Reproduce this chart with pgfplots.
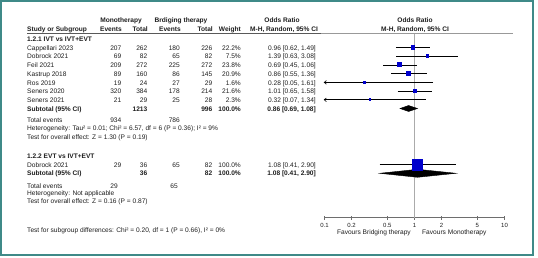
\documentclass[border=0pt]{standalone}
\usepackage{fontspec}
\setmainfont{Liberation Sans}
\usepackage{pgfplots}
\pgfplotsset{compat=1.18}
\usetikzlibrary{arrows.meta}
\definecolor{frameteal}{HTML}{3F8A88}
\definecolor{txt}{HTML}{1E1E1E}
\definecolor{axgray}{HTML}{6E6E6E}
\definecolor{refgray}{HTML}{ABABAB}
\definecolor{sqblue}{HTML}{0000CC}
\newcommand{\fs}{\fontsize{6.6}{7.5}\selectfont}
\begin{document}
\begin{tikzpicture}[
  L/.style={anchor=mid west, inner sep=0pt, font=\fs, text=txt},
  R/.style={anchor=mid east, inner sep=0pt, font=\fs, text=txt},
  C/.style={anchor=mid, inner sep=0pt, font=\fs, text=txt},
]
% ---------- text / frame layer (pixel coordinates, y downwards) ----------
\begin{scope}[x=1pt, y=-1pt, shift={(0pt,257pt)}]
\fill[white] (0,0) rectangle (538,257);
\draw[frameteal, line width=2.2pt] (1.1,1) rectangle (533,254.5);
% header rule
\draw[draw=black!65, line width=0.8pt] (27,33.5) -- (321,33.5);
\draw[draw=black!40, line width=0.8pt] (321,33.5) -- (513,33.5);
% headers
\node[C] at (121,20) {\bfseries Monotherapy};
\node[C] at (181,20) {\bfseries Brdiging therapy};
\node[C] at (282,20) {\bfseries Odds Ratio};
\node[C] at (415,20) {\bfseries Odds Ratio};
\node[L] at (27,29) {\bfseries Study or Subgroup};
\node[R] at (122,29) {\bfseries Events};
\node[R] at (148,29) {\bfseries Total};
\node[R] at (181,29) {\bfseries Events};
\node[R] at (213,29) {\bfseries Total};
\node[R] at (241,29) {\bfseries Weight};
\node[C] at (284,29) {\bfseries M-H, Random, 95\% CI};
\node[C] at (415,29) {\bfseries M-H, Random, 95\% CI};
% subgroup 1
\node[L] at (27,38.5) {\bfseries 1.2.1 IVT vs IVT+EVT};
\foreach \y/\n/\a/\b/\c/\d/\w/\o in {
  47.5/Cappellari 2023/207/262/180/226/22.2\%/{0.96 [0.62, 1.49]},
  56.2/Dobrock 2021/69/82/65/82/7.5\%/{1.39 [0.63, 3.08]},
  64.9/Feil 2021/209/272/225/272/23.8\%/{0.69 [0.45, 1.06]},
  73.6/Kastrup 2018/89/160/86/145/20.9\%/{0.86 [0.55, 1.36]},
  82.3/Ros 2019/19/24/27/29/1.6\%/{0.28 [0.05, 1.61]},
  91.0/Seners 2020/320/384/178/214/21.6\%/{1.01 [0.65, 1.58]},
  99.7/Seners 2021/21/29/25/28/2.3\%/{0.32 [0.07, 1.34]},
  164.6/Dobrock 2021/29/36/65/82/100.0\%/{1.08 [0.41, 2.90]}}{
  \node[L] at (27,\y) {\n};
  \node[R] at (121.5,\y) {\a};
  \node[R] at (147.5,\y) {\b};
  \node[R] at (180,\y) {\c};
  \node[R] at (212.5,\y) {\d};
  \node[R] at (241,\y) {\w};
  \node[R] at (316,\y) {\o};
}
\node[L] at (27,108.4) {\bfseries Subtotal (95\% CI)};
\node[R] at (147.5,108.4) {\bfseries 1213};
\node[R] at (212.5,108.4) {\bfseries 996};
\node[R] at (241,108.4) {\bfseries 100.0\%};
\node[R] at (316,108.4) {\bfseries 0.86 [0.69, 1.08]};
\node[L] at (27,119.3) {Total events};
\node[R] at (121.5,119.3) {934};
\node[R] at (180,119.3) {786};
\node[L] at (27,128.2) {Heterogeneity: Tau² = 0.01; Chi² = 6.57, df = 6 (P = 0.36); I² = 9\%};
\node[L] at (27,137.2) {Test for overall effect: Z = 1.30 (P = 0.19)};
% subgroup 2
\node[L] at (27,155.8) {\bfseries 1.2.2 EVT vs IVT+EVT};
\node[L] at (27,173.2) {\bfseries Subtotal (95\% CI)};
\node[R] at (147.5,173.2) {\bfseries 36};
\node[R] at (212.5,173.2) {\bfseries 82};
\node[R] at (241,173.2) {\bfseries 100.0\%};
\node[R] at (316,173.2) {\bfseries 1.08 [0.41, 2.90]};
\node[L] at (27,185.5) {Total events};
\node[R] at (118,185.5) {29};
\node[R] at (178,185.5) {65};
\node[L] at (27,192.8) {Heterogeneity: Not applicable};
\node[L] at (27,200.8) {Test for overall effect: Z = 0.16 (P = 0.87)};
\node[L] at (27,230) {Test for subgroup differences: Chi² = 0.20, df = 1 (P = 0.66), I² = 0\%};
% favours
\node[R] at (411,231.7) {Favours Bridging therapy};
\node[L] at (422,231.7) {Favours Monotherapy};
\end{scope}
% ---------- forest plot (log odds ratio axis) ----------
\begin{axis}[at={(324.5pt,39.3pt)}, anchor=south west, scale only axis,
  width=180pt, height=184.2pt, xmode=log, xmin=0.1, xmax=10,
  ymin=-217.7, ymax=-33.5, axis x line=bottom, axis y line=none,
  axis line style={-, draw=axgray, line width=0.8pt},
  xtick={0.1,0.2,0.5,1,2,5,10}, xticklabels={0.1,0.2,0.5,1,2,5,10},
  minor xtick={}, tick align=center, major tick length=4pt,
  tick style={draw=axgray, line width=0.8pt},
  xticklabel style={font=\fontsize{6}{7}\selectfont, text=txt, inner sep=0pt, anchor=north, yshift=-3.3pt},
  clip=false]
% line of no effect
\addplot[refgray, line width=1.6pt, mark=none] coordinates {(1,-33.5) (1,-217.7)};
% confidence intervals
\addplot[black, line width=0.6pt, mark=none] coordinates {(0.62,-47.5) (1.49,-47.5)};
\addplot[black, line width=0.6pt, mark=none] coordinates {(0.63,-56.2) (3.08,-56.2)};
\addplot[black, line width=0.6pt, mark=none] coordinates {(0.45,-64.9) (1.06,-64.9)};
\addplot[black, line width=0.6pt, mark=none] coordinates {(0.55,-73.6) (1.36,-73.6)};
\addplot[black, line width=0.6pt, mark=none, -{Straight Barb[length=2.2pt,width=3.6pt]}] coordinates {(1.61,-82.3) (0.098,-82.3)};
\addplot[black, line width=0.6pt, mark=none] coordinates {(0.65,-91.0) (1.58,-91.0)};
\addplot[black, line width=0.6pt, mark=none, -{Straight Barb[length=2.2pt,width=3.6pt]}] coordinates {(1.34,-99.7) (0.098,-99.7)};
\addplot[black, line width=0.6pt, mark=none] coordinates {(0.41,-164.6) (2.90,-164.6)};
% study estimates (boxes)
\addplot[only marks, mark=square*, mark options={draw=sqblue, fill=sqblue, line width=0pt}, mark size=1.9pt] coordinates {(0.96,-47.5)};
\addplot[only marks, mark=square*, mark options={draw=sqblue, fill=sqblue, line width=0pt}, mark size=1.3pt] coordinates {(1.39,-56.2)};
\addplot[only marks, mark=square*, mark options={draw=sqblue, fill=sqblue, line width=0pt}, mark size=2.0pt] coordinates {(0.69,-64.9)};
\addplot[only marks, mark=square*, mark options={draw=sqblue, fill=sqblue, line width=0pt}, mark size=1.85pt] coordinates {(0.86,-73.6)};
\addplot[only marks, mark=square*, mark options={draw=sqblue, fill=sqblue, line width=0pt}, mark size=0.8pt] coordinates {(0.28,-82.3)};
\addplot[only marks, mark=square*, mark options={draw=sqblue, fill=sqblue, line width=0pt}, mark size=1.85pt] coordinates {(1.01,-91.0)};
\addplot[only marks, mark=square*, mark options={draw=sqblue, fill=sqblue, line width=0pt}, mark size=0.8pt] coordinates {(0.32,-99.7)};
\addplot[only marks, mark=square*, mark options={draw=sqblue, fill=sqblue, line width=0pt}, mark size=5.3pt] coordinates {(1.08,-164.6)};
% subtotal diamonds
\addplot[draw=black, fill=black, mark=none] coordinates {(0.69,-108.4) (0.86,-105.4) (1.08,-108.4) (0.86,-111.4)} -- cycle;
\addplot[draw=black, fill=black, mark=none] coordinates {(0.41,-173.2) (1.08,-169.2) (2.90,-173.2) (1.08,-177.2)} -- cycle;
\end{axis}
\end{tikzpicture}
\end{document}
